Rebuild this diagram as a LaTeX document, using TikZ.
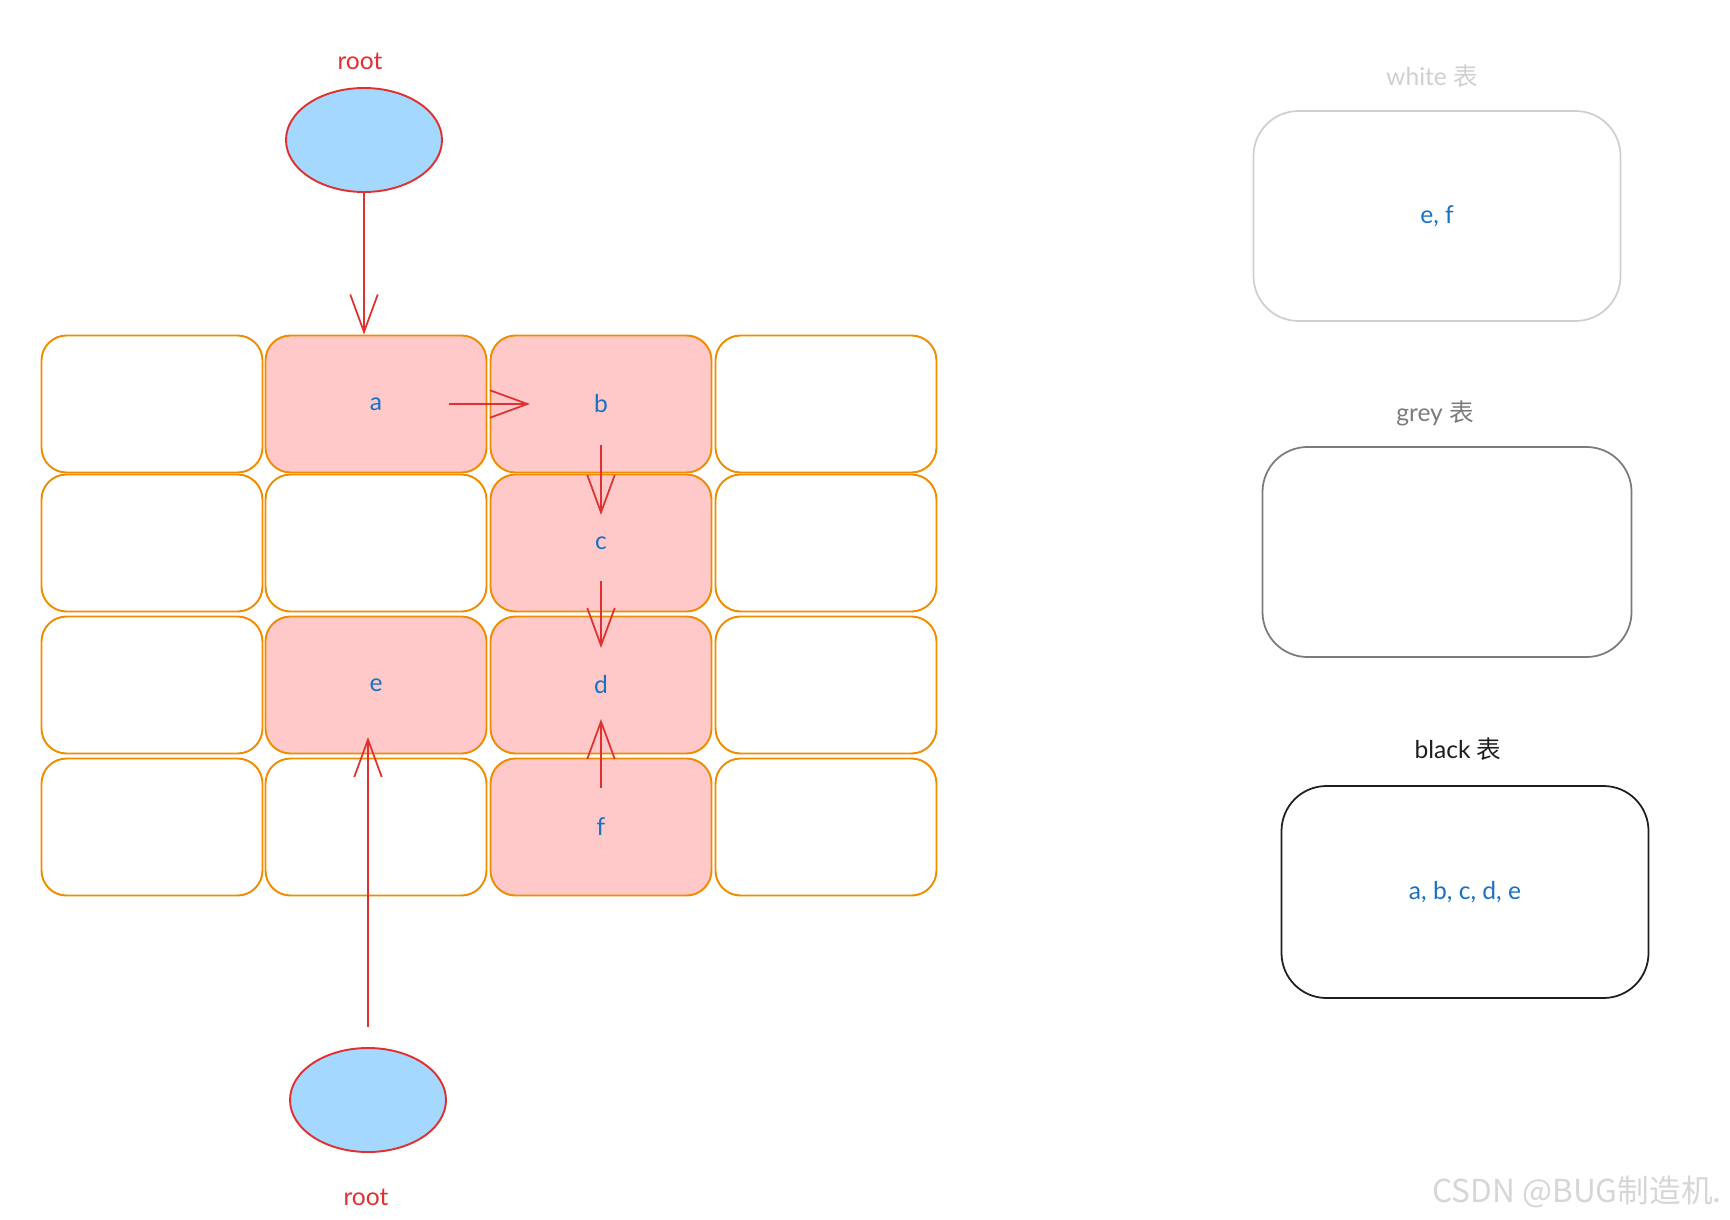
\documentclass[tikz,border=0pt]{standalone}
\usepackage{fontspec}
\setmainfont{Lato}
\newfontfamily\cjk{Noto Sans CJK SC}
\usetikzlibrary{shapes.geometric,arrows.meta}
\definecolor{cellorange}{HTML}{F08C00}
\definecolor{hitpink}{HTML}{FFC9C9}
\definecolor{rootred}{HTML}{E03131}
\definecolor{rootblue}{HTML}{A5D8FF}
\definecolor{labelblue}{HTML}{1971C2}
\definecolor{lightline}{HTML}{CFCFCF}
\definecolor{midline}{HTML}{7B7B7B}
\definecolor{darkline}{HTML}{1E1E1E}
\definecolor{markgrey}{HTML}{D6D6D6}

\begin{document}
\begin{tikzpicture}[x=0.2mm,y=-0.2mm,
    lbl/.style={font=\fontsize{14}{16}\selectfont},
    cell/.style={lbl,draw=cellorange,line width=1.1pt,rounded corners=5mm,
      minimum width=44.2mm,minimum height=27.4mm,text=labelblue},
    hit/.style={cell,fill=hitpink},
    root/.style={ellipse,draw=rootred,fill=rootblue,line width=1.1pt,
      minimum width=31.2mm,minimum height=20.8mm},
    arr/.style={draw=rootred,line width=1pt,-{Straight Barb[length=7.5mm,width=5.5mm]}},
    tabbox/.style={lbl,rounded corners=9mm,line width=1pt,text=labelblue,
      minimum width=73.4mm,minimum height=42mm}]
        \useasboundingbox (0,0) rectangle (1730,1220);
        % the heap
        \node[cell] (c11) at (152,404) {};
        \node[hit]  (c12) at (376,404) {a};
        \node[hit]  (c13) at (601,404) {b};
        \node[cell] (c14) at (826,404) {};
        \node[cell] (c21) at (152,543) {};
        \node[cell] (c22) at (376,543) {};
        \node[hit]  (c23) at (601,543) {c};
        \node[cell] (c24) at (826,543) {};
        \node[cell] (c31) at (152,685) {};
        \node[hit]  (c32) at (376,685) {e};
        \node[hit]  (c33) at (601,685) {d};
        \node[cell] (c34) at (826,685) {};
        \node[cell] (c41) at (152,827) {};
        \node[cell] (c42) at (376,827) {};
        \node[hit]  (c43) at (601,827) {f};
        \node[cell] (c44) at (826,827) {};
        % roots
        \node[root] (top) at (364,140) {};
        \node[lbl,text=rootred] (toplbl) at (360,61) {root};
        \node[root] (bot) at (368,1100) {};
        \node[lbl,text=rootred] (botlbl) at (366,1197) {root};
        % tables
        \node[lbl,text=lightline] (whitelbl) at (1432,76) {white {\cjk 表}};
        \node[tabbox,draw=lightline] (white) at (1437,216) {e, f};
        \node[lbl,text=midline] (greylbl) at (1435,413) {grey {\cjk 表}};
        \node[tabbox,draw=midline,minimum width=73.8mm] (grey) at (1447,552) {};
        \node[lbl,text=darkline] (blacklbl) at (1458,749) {black {\cjk 表}};
        \node[tabbox,draw=darkline,minimum height=42.4mm] (black) at (1465,892) {a, b, c, d, e};
        \node[text=markgrey,font=\cjk\fontsize{18}{20}\selectfont] (mark) at (1577,1192) {CSDN @BUG制造机.};
        \path (top) edge[arr] (top |- c12.north)
          (c12.center) edge[arr,shorten <=14.6mm,shorten >=14.2mm] (c13.center)
          (c13.center) edge[arr,shorten <=8.2mm,shorten >=5.6mm] (c23.center)
          (c23.center) edge[arr,shorten <=7.6mm,shorten >=7.4mm] (c33.center)
          (c43.center) edge[arr,shorten <=7.8mm,shorten >=6.8mm] (c33.center)
          (bot) edge[arr,shorten <=4mm,shorten >=10.4mm] (bot |- c32.center);
      \end{tikzpicture}
\end{document}
